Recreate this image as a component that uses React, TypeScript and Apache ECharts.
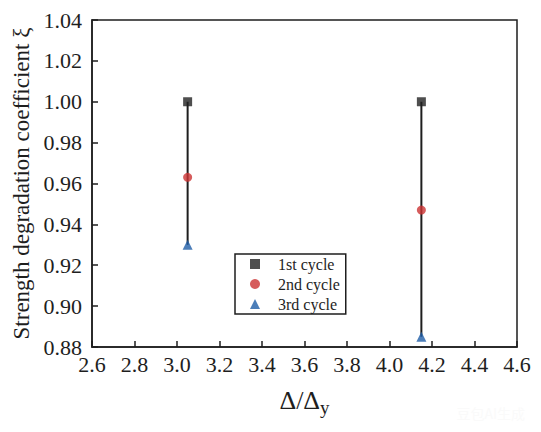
import React, { useEffect, useRef } from "react";
import * as echarts from "echarts";

const ductility = [3.05, 4.15];
const cycle1 = [1.0, 1.0];
const cycle2 = [0.963, 0.947];
const cycle3 = [0.93, 0.885];
const seriesNames = ["1st cycle", "2nd cycle", "3rd cycle"];
const xTicks = { min: 2.6, max: 4.6, interval: 0.2 };
const yTicks = { min: 0.88, max: 1.04, interval: 0.02 };

const FONT = "Liberation Serif";
const INK = "#1e1e1e";

export default function App() {
  const ref = useRef<HTMLDivElement>(null);
  useEffect(() => {
    if (!ref.current) return;
    const chart = echarts.init(ref.current, undefined, { renderer: "svg" });
    const rangeLines = ductility.map((x, i) => ({
      type: "line",
      name: "range" + i,
      data: [
        [x, cycle1[i]],
        [x, cycle3[i]],
      ],
      symbol: "none",
      lineStyle: { color: INK, width: 2 },
      z: 1,
      silent: true,
    }));
    chart.setOption({
      animation: false,
      backgroundColor: "#ffffff",
      textStyle: { fontFamily: FONT },
      grid: {
        left: 92,
        right: 24,
        top: 20,
        bottom: 85,
        show: true,
        borderColor: INK,
        borderWidth: 1.5,
        backgroundColor: "transparent",
      },
      legend: {
        data: seriesNames,
        orient: "vertical",
        left: 235,
        top: 254,
        padding: [2, 6, 2, 15],
        itemGap: 4,
        itemWidth: 10,
        itemHeight: 10,
        borderColor: INK,
        borderWidth: 1.5,
        textStyle: {
          fontFamily: FONT,
          fontSize: 16,
          lineHeight: 16,
          color: INK,
          padding: [0, 0, 0, 13],
        },
      },
      xAxis: {
        type: "value",
        min: xTicks.min,
        max: xTicks.max,
        interval: xTicks.interval,
        name: "{a|Δ/Δ}{s|y}",
        nameLocation: "middle",
        nameGap: 37,
        nameTextStyle: {
          rich: {
            a: { fontFamily: FONT, fontSize: 26, color: INK },
            s: { fontFamily: FONT, fontSize: 19, color: INK, padding: [14, 0, 0, 0] },
          },
        },
        axisLine: { show: true, lineStyle: { color: INK, width: 1.5 } },
        axisTick: { show: true, inside: true, length: 6, lineStyle: { color: INK, width: 1.5 } },
        axisLabel: {
          fontFamily: FONT,
          fontSize: 22,
          color: INK,
          margin: 6,
          formatter: (v: number) => v.toFixed(1),
        },
        splitLine: { show: false },
      },
      yAxis: {
        type: "value",
        min: yTicks.min,
        max: yTicks.max,
        interval: yTicks.interval,
        name: "Strength degradation coefficient ξ",
        nameLocation: "middle",
        nameRotate: 90,
        nameGap: 58,
        nameTextStyle: { fontFamily: FONT, fontSize: 23, color: INK },
        axisLine: { show: true, lineStyle: { color: INK, width: 1.5 } },
        axisTick: { show: true, inside: true, length: 6, lineStyle: { color: INK, width: 1.5 } },
        axisLabel: {
          fontFamily: FONT,
          fontSize: 22,
          color: INK,
          margin: 10,
          formatter: (v: number) => v.toFixed(2),
        },
        splitLine: { show: false },
      },
      graphic: [
        {
          type: "text",
          right: 16,
          bottom: 12,
          style: {
            text: "豆包AI生成",
            font: "14px Noto Sans CJK SC",
            fill: "#fafafa",
          },
          silent: true,
        },
      ],
      series: [
        ...rangeLines,
        {
          type: "scatter",
          name: seriesNames[0],
          symbol: "rect",
          symbolSize: 9,
          itemStyle: { color: "#222222" },
          data: ductility.map((x, i) => [x, cycle1[i]]),
          z: 3,
        },
        {
          type: "scatter",
          name: seriesNames[1],
          symbol: "circle",
          symbolSize: 9,
          itemStyle: { color: "#cc3333" },
          data: ductility.map((x, i) => [x, cycle2[i]]),
          z: 3,
        },
        {
          type: "scatter",
          name: seriesNames[2],
          symbol: "triangle",
          symbolSize: 10,
          itemStyle: { color: "#1f5ea8" },
          data: ductility.map((x, i) => [x, cycle3[i]]),
          z: 3,
        },
      ],
    });
    return () => chart.dispose();
  }, []);
  return (
    <div
      ref={ref}
      style={{ position: "fixed", left: 0, top: 0, width: 541, height: 432 }}
    />
  );
}
